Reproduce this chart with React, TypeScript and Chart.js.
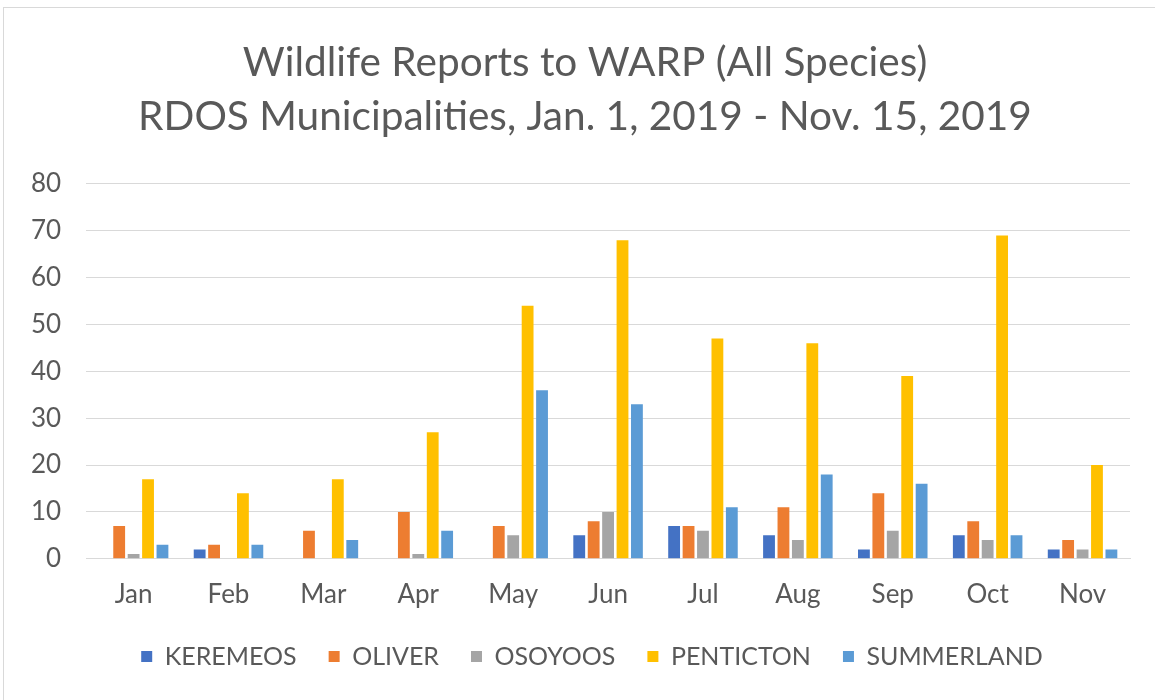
import React, { useEffect, useRef } from "react";
import { Chart, registerables } from "chart.js";

Chart.register(...registerables);

const months = ["Jan", "Feb", "Mar", "Apr", "May", "Jun", "Jul", "Aug", "Sep", "Oct", "Nov"];
const keremeos = [0, 2, 0, 0, 0, 5, 7, 5, 2, 5, 2];
const oliver = [7, 3, 6, 10, 7, 8, 7, 11, 14, 8, 4];
const osoyoos = [1, 0, 0, 1, 5, 10, 6, 4, 6, 4, 2];
const penticton = [17, 14, 17, 27, 54, 68, 47, 46, 39, 69, 20];
const summerland = [3, 3, 4, 6, 36, 33, 11, 18, 16, 5, 2];
const titleLines = ["Wildlife Reports to WARP (All Species)", "RDOS Municipalities, Jan. 1, 2019 - Nov. 15, 2019"];

const FONT = "Lato, 'Open Sans', sans-serif";
const TEXT = "#595959";

const shiftBlocks = {
  id: "shiftBlocks",
  afterLayout(chart: any) {
    if (chart.titleBlock) chart.titleBlock.left += 34;
    if (chart.legend) chart.legend.left += 48;
  },
};

export default function App() {
  const ref = useRef<HTMLCanvasElement>(null);
  useEffect(() => {
    document.body.style.margin = "0";
    const ctx = ref.current!;
    const mk = (label: string, data: number[], color: string) => ({
      label,
      data,
      backgroundColor: color,
      borderWidth: 0,
      categoryPercentage: 0.76,
      barPercentage: 0.82,
    });
    const chart = new Chart(ctx, {
      type: "bar",
      data: {
        labels: months,
        datasets: [
          mk("KEREMEOS", keremeos, "#4472C4"),
          mk("OLIVER", oliver, "#ED7D31"),
          mk("OSOYOOS", osoyoos, "#A5A5A5"),
          mk("PENTICTON", penticton, "#FFC000"),
          mk("SUMMERLAND", summerland, "#5B9BD5"),
        ],
      },
      plugins: [shiftBlocks],
      options: {
        animation: false,
        responsive: false,
        maintainAspectRatio: false,
        layout: { padding: { left: 6, right: 25, top: 36, bottom: 21 } },
        plugins: {
          title: {
            display: true,
            text: titleLines,
            color: TEXT,
            font: { family: FONT, size: 40.6, weight: "normal", lineHeight: 1.33 },
            padding: { top: 0, bottom: 40 },
          },
          legend: {
            position: "bottom",
            labels: {
              color: TEXT,
              font: { family: FONT, size: 25 },
              boxWidth: 11,
              boxHeight: 11,
              padding: 32,
            },
          },
          tooltip: { enabled: false },
        },
        scales: {
          x: {
            grid: { display: false, drawTicks: false },
            border: { color: "#d9d9d9", width: 1 },
            ticks: { color: TEXT, font: { family: FONT, size: 26 }, padding: 20 },
            afterFit: (scale: any) => {
              scale.height -= 18;
            },
          },
          y: {
            min: 0,
            max: 80,
            ticks: { stepSize: 10, color: TEXT, font: { family: FONT, size: 26 }, padding: 25 },
            grid: { color: "#d9d9d9", lineWidth: 1, drawTicks: false },
            border: { display: false },
          },
        },
      },
    });
    return () => chart.destroy();
  }, []);
  return (
    <div style={{ position: "fixed", left: 0, top: 0, width: 1155, height: 700, background: "#fff" }}>
      <div
        style={{
          position: "absolute",
          left: 3,
          top: 7,
          width: 1160,
          height: 700,
          border: "1px solid #d9d9d9",
          boxSizing: "border-box",
        }}
      />
      <canvas ref={ref} width={1155} height={700} style={{ position: "absolute", left: 0, top: 0 }} />
    </div>
  );
}
